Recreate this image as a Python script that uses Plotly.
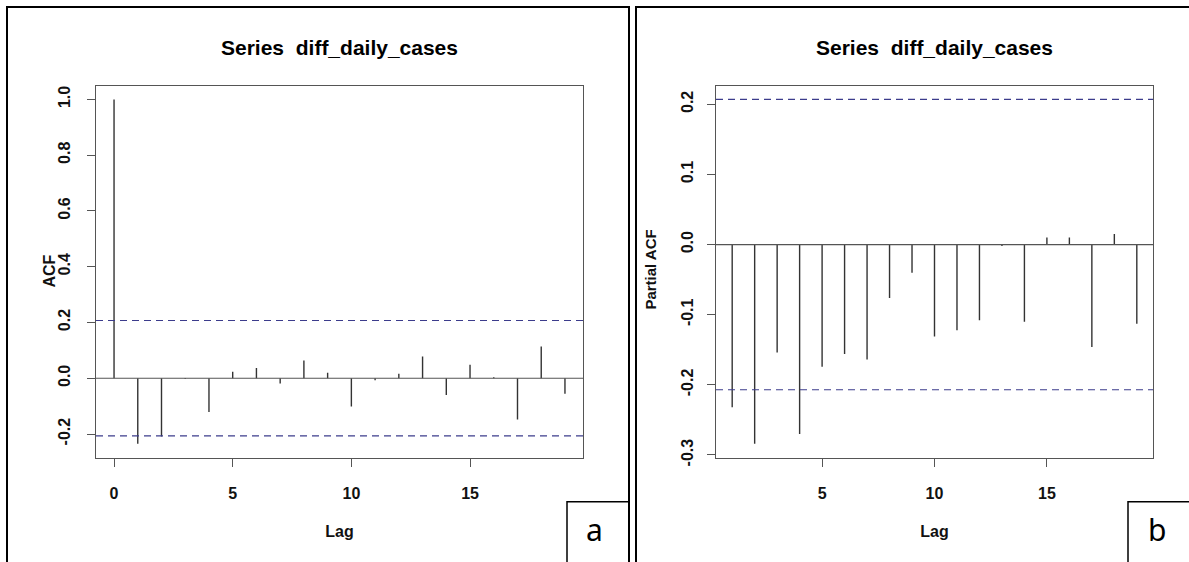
import plotly.graph_objects as go

# ---- data ----
acf_lags = list(range(0, 20))
acf_vals = [1.0, -0.235, -0.209, -0.003, -0.121, 0.023, 0.037, -0.019, 0.064, 0.020,
            -0.101, -0.007, 0.016, 0.078, -0.060, 0.048, 0.004, -0.148, 0.114, -0.056]
pacf_lags = list(range(1, 20))
pacf_vals = [-0.232, -0.284, -0.154, -0.270, -0.174, -0.156, -0.164, -0.076, -0.040,
             -0.131, -0.122, -0.108, -0.002, -0.110, 0.010, 0.010, -0.146, 0.015, -0.113]
ci = 0.207

acf_yticks = [-0.2, 0.0, 0.2, 0.4, 0.6, 0.8, 1.0]
pacf_yticks = [-0.3, -0.2, -0.1, 0.0, 0.1, 0.2]
acf_xticks = [0, 5, 10, 15]
pacf_xticks = [5, 10, 15]
title_text = "Series  diff_daily_cases"

W, H = 1189, 562
FONT = "Liberation Sans, Arial, sans-serif"
FRAME = "#555555"
SPIKE = "#333333"
CI_COL = "#3c3c8c"


def px_x(p):
    return p / W


def px_y(p):
    return 1 - p / H


def spikes(lags, vals):
    xs, ys = [], []
    for k, v in zip(lags, vals):
        xs += [k, k, None]
        ys += [0, v, None]
    return xs, ys


def rng(vals, extra):
    lo = min(min(vals), min(extra))
    hi = max(max(vals), max(extra))
    pad = 0.04 * (hi - lo)
    return [lo - pad, hi + pad]


fig = go.Figure()
x1, y1 = spikes(acf_lags, acf_vals)
fig.add_trace(go.Scatter(x=x1, y=y1, mode="lines", line=dict(color=SPIKE, width=1.4),
                         xaxis="x", yaxis="y", showlegend=False, hoverinfo="skip"))
x2, y2 = spikes(pacf_lags, pacf_vals)
fig.add_trace(go.Scatter(x=x2, y=y2, mode="lines", line=dict(color=SPIKE, width=1.4),
                         xaxis="x2", yaxis="y2", showlegend=False, hoverinfo="skip"))

ax_common = dict(showline=True, mirror=True, linecolor=FRAME, linewidth=1.2,
                 showgrid=False, zeroline=False, ticks="outside", ticklen=8,
                 tickcolor=FRAME, tickwidth=1.2,
                 tickfont=dict(family=FONT, size=16, color="#111111"))

xlo1, xhi1 = min(acf_lags), max(acf_lags)
xpad1 = 0.04 * (xhi1 - xlo1)
xlo2, xhi2 = min(pacf_lags), max(pacf_lags)
xpad2 = 0.04 * (xhi2 - xlo2)

ydom = [px_y(465), px_y(87)]
lagfont = dict(family=FONT, size=16, color="#111")
fig.update_layout(
    width=W, height=H, margin=dict(l=0, r=0, t=0, b=0),
    paper_bgcolor="white", plot_bgcolor="white",
    xaxis=dict(domain=[px_x(96), px_x(583)], range=[xlo1 - xpad1, xhi1 + xpad1],
               tickvals=acf_xticks, ticktext=[f"<b>{v}</b>" for v in acf_xticks],
               ticklabelstandoff=13, anchor="y",
               title=dict(text="<b>Lag</b>", font=lagfont, standoff=24),
               **ax_common),
    yaxis=dict(domain=ydom, range=rng(acf_vals, [-ci, ci]), tickvals=acf_yticks,
               ticktext=[f"<b>{v:.1f}</b>" for v in acf_yticks], tickangle=-90, anchor="x",
               ticklabelstandoff=11,
               **ax_common),
    xaxis2=dict(domain=[px_x(716), px_x(1153)], range=[xlo2 - xpad2, xhi2 + xpad2],
                tickvals=pacf_xticks, ticktext=[f"<b>{v}</b>" for v in pacf_xticks],
                ticklabelstandoff=13, anchor="y2",
                title=dict(text="<b>Lag</b>", font=lagfont, standoff=24),
                **ax_common),
    yaxis2=dict(domain=ydom, range=rng(pacf_vals, [-ci, ci]), tickvals=pacf_yticks,
                ticktext=[f"<b>{v:.1f}</b>" for v in pacf_yticks], tickangle=-90, anchor="x2",
                ticklabelstandoff=8,
                **ax_common),
)

shapes = []
for xr, yr in (("x", "y"), ("x2", "y2")):
    shapes.append(dict(type="line", xref=f"{xr} domain", x0=0, x1=1, yref=yr, y0=0, y1=0,
                       line=dict(color=FRAME, width=1.2)))
    for s in (ci, -ci):
        shapes.append(dict(type="line", xref=f"{xr} domain", x0=0, x1=1, yref=yr, y0=s, y1=s,
                           line=dict(color=CI_COL, width=1.2, dash="7px,5px")))
# outer panel frames
shapes.append(dict(type="rect", xref="paper", yref="paper", x0=px_x(7), x1=px_x(629),
                   y0=-0.05, y1=px_y(7), line=dict(color="black", width=2)))
shapes.append(dict(type="rect", xref="paper", yref="paper", x0=px_x(636), x1=1.05,
                   y0=-0.05, y1=px_y(7), line=dict(color="black", width=2)))
# label boxes
shapes.append(dict(type="rect", xref="paper", yref="paper", x0=px_x(567), x1=px_x(629),
                   y0=-0.05, y1=px_y(510), line=dict(color="black", width=1.5)))
shapes.append(dict(type="rect", xref="paper", yref="paper", x0=px_x(1128), x1=1.05,
                   y0=-0.05, y1=px_y(510), line=dict(color="black", width=1.5)))
fig.update_layout(shapes=shapes)

annos = []
for cx in ((96 + 583) / 2, (716 + 1153) / 2):
    annos.append(dict(text=f"<b>{title_text}</b>", xref="paper", yref="paper",
                      x=px_x(cx), y=px_y(48), xanchor="center", yanchor="middle",
                      showarrow=False, font=dict(family=FONT, size=21, color="black")))
# y-axis titles
annos.append(dict(text="<b>ACF</b>", xref="paper", yref="paper", x=px_x(50), y=px_y(276),
                  xanchor="center", yanchor="middle", textangle=-90, showarrow=False,
                  font=dict(family=FONT, size=16, color="#111")))
annos.append(dict(text="<b>Partial ACF</b>", xref="paper", yref="paper", x=px_x(651), y=px_y(274),
                  xanchor="center", yanchor="middle", textangle=-90, showarrow=False,
                  font=dict(family=FONT, size=15, color="#111")))
annos.append(dict(text="a", xref="paper", yref="paper", x=px_x(594), y=px_y(538),
                  xanchor="center", yanchor="middle", showarrow=False,
                  font=dict(family="Noto Sans, sans-serif", size=30, color="black")))
annos.append(dict(text="b", xref="paper", yref="paper", x=px_x(1157), y=px_y(538),
                  xanchor="center", yanchor="middle", showarrow=False,
                  font=dict(family="Noto Sans, sans-serif", size=30, color="black")))
fig.update_layout(annotations=annos)

fig.write_html("out.html")
